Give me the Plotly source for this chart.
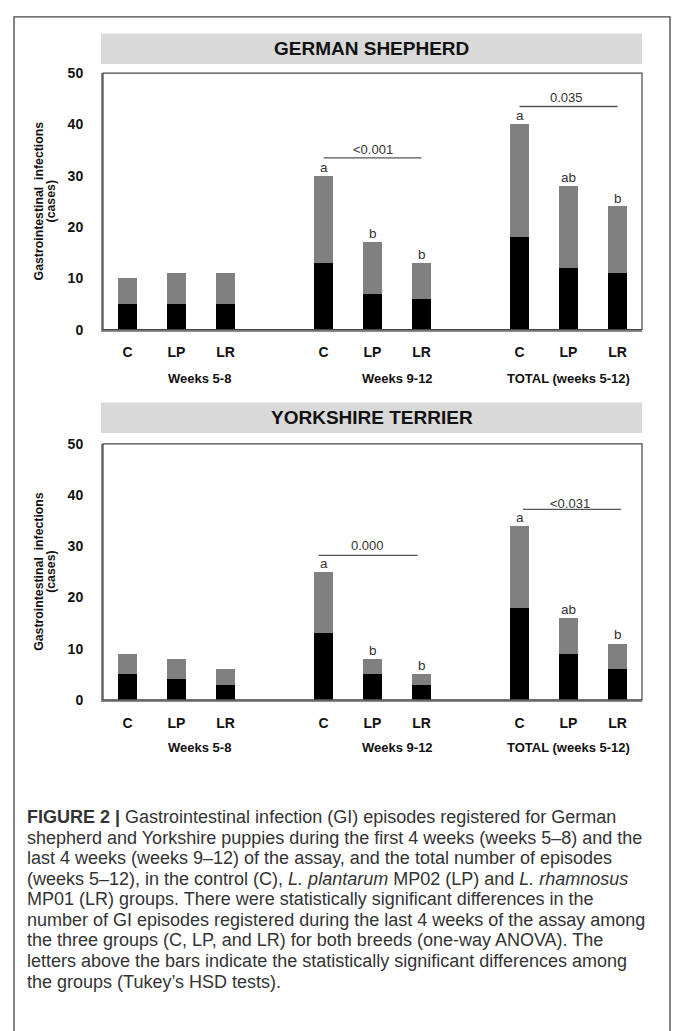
import plotly.graph_objects as go

W, H = 673, 1031
def px(x): return x / W
def py(y): return 1 - y / H

# ---------------- data ----------------
categories = ["C", "LP", "LR"]
periods = ["Weeks 5-8", "Weeks 9-12", "TOTAL (weeks 5-12)"]

gs_black = [5, 5, 5, 13, 7, 6, 18, 12, 11]
gs_total = [10, 11, 11, 30, 17, 13, 40, 28, 24]
gs_letters = ["", "", "", "a", "b", "b", "a", "ab", "b"]
gs_sig_text = ["<0.001", "0.035"]
gs_sig_x0 = [4.0, 8.0]
gs_sig_x1 = [6.0, 10.0]
gs_sig_line_y = [33.5, 43.5]
gs_sig_text_x = [5.0, 8.95]
gs_sig_text_y = [35.1, 45.3]

yt_black = [5, 4, 3, 13, 5, 3, 18, 9, 6]
yt_total = [9, 8, 6, 25, 8, 5, 34, 16, 11]
yt_letters = ["", "", "", "a", "b", "b", "a", "ab", "b"]
yt_sig_text = ["0.000", "<0.031"]
yt_sig_x0 = [3.9, 8.07]
yt_sig_x1 = [5.92, 10.07]
yt_sig_line_y = [28.2, 37.2]
yt_sig_text_x = [4.9, 9.04]
yt_sig_text_y = [30.2, 38.4]

y_ticks = [0, 10, 20, 30, 40, 50]

caption_lines = [
    "<b>FIGURE 2 |</b> Gastrointestinal infection (GI) episodes registered for German",
    "shepherd and Yorkshire puppies during the first 4 weeks (weeks 5–8) and the",
    "last 4 weeks (weeks 9–12) of the assay, and the total number of episodes",
    "(weeks 5–12), in the control (C), <i>L. plantarum</i> MP02 (LP) and <i>L. rhamnosus</i>",
    "MP01 (LR) groups. There were statistically significant differences in the",
    "number of GI episodes registered during the last 4 weeks of the assay among",
    "the three groups (C, LP, and LR) for both breeds (one-way ANOVA). The",
    "letters above the bars indicate the statistically significant differences among",
    "the groups (Tukey’s HSD tests).",
]

# ---------------- layout helpers ----------------
FONT = "Liberation Sans, Arial, sans-serif"
pos = [g * 4 + i for g in range(len(periods)) for i in range(len(categories))]
ticktext = categories * len(periods)
group_x = [1.47, 5.5, 9.0]

fig = go.Figure()

panels = [
    dict(black=gs_black, total=gs_total, letters=gs_letters, xa="x", ya="y",
         sig_text=gs_sig_text, sx0=gs_sig_x0, sx1=gs_sig_x1, sly=gs_sig_line_y,
         stx=gs_sig_text_x, sty=gs_sig_text_y,
         title="GERMAN SHEPHERD", head=(26, 57), y0px=326.7, y50px=66.2, grp_y=376),
    dict(black=yt_black, total=yt_total, letters=yt_letters, xa="x2", ya="y2",
         sig_text=yt_sig_text, sx0=yt_sig_x0, sx1=yt_sig_x1, sly=yt_sig_line_y,
         stx=yt_sig_text_x, sty=yt_sig_text_y,
         title="YORKSHIRE TERRIER", head=(400.7, 431.7), y0px=702.7, y50px=442.7, grp_y=751),
]

annotations = []
shapes = []

for k, p in enumerate(panels):
    gray = [t - b for t, b in zip(p["total"], p["black"])]
    fig.add_trace(go.Bar(x=pos, y=p["black"], width=0.4, marker=dict(color="#000000", line=dict(width=0)),
                         xaxis=p["xa"], yaxis=p["ya"], showlegend=False, hoverinfo="skip"))
    fig.add_trace(go.Bar(x=pos, y=gray, width=0.4, marker=dict(color="#808080", line=dict(width=0)),
                         xaxis=p["xa"], yaxis=p["ya"], showlegend=False, hoverinfo="skip"))

    # letters
    for xv, tv, lt in zip(pos, p["total"], p["letters"]):
        if lt:
            annotations.append(dict(x=xv, y=tv, xref=p["xa"], yref=p["ya"], text=lt, showarrow=False,
                                    yanchor="bottom", yshift=-1, font=dict(family=FONT, size=13.5, color="#333333")))
    # significance
    for t, x0, x1, ly, tx, ty in zip(p["sig_text"], p["sx0"], p["sx1"], p["sly"], p["stx"], p["sty"]):
        shapes.append(dict(type="line", xref=p["xa"], yref=p["ya"], x0=x0, x1=x1, y0=ly, y1=ly,
                           line=dict(color="#555555", width=1.3)))
        annotations.append(dict(x=tx, y=ty, xref=p["xa"], yref=p["ya"], text=t, showarrow=False,
                                yanchor="middle", font=dict(family=FONT, size=13, color="#333333")))
    # group labels
    for gx, g in zip(group_x, periods):
        annotations.append(dict(x=gx, y=py(p["grp_y"]), xref=p["xa"], yref="paper", text="<b>%s</b>" % g,
                                showarrow=False, yanchor="middle", font=dict(family=FONT, size=13, color="#111111")))
    # header band
    shapes.append(dict(type="rect", xref="paper", yref="paper", x0=px(101), x1=px(642),
                       y0=py(p["head"][1]), y1=py(p["head"][0]), fillcolor="#d9d9d9", line=dict(width=0), layer="below"))
    annotations.append(dict(x=px(371.5), y=py((p["head"][0] + p["head"][1]) / 2), xref="paper", yref="paper",
                            text="<b>%s</b>" % p["title"], showarrow=False, yanchor="middle",
                            font=dict(family=FONT, size=19, color="#111111")))
    # frame of plot area
    xd = p["xa"] + " domain"
    yd = p["ya"] + " domain"
    shapes.append(dict(type="rect", xref=xd, yref=yd, x0=0, x1=1, y0=0, y1=1,
                       line=dict(color="#444444", width=1.2)))
    # y axis title (two lines)
    ymid = (p["y0px"] + p["y50px"]) / 2
    annotations.append(dict(x=px(39), y=py(ymid), xref="paper", yref="paper", text="<b>Gastrointestinal  infections</b>",
                            textangle=-90, showarrow=False, xanchor="center", yanchor="middle",
                            font=dict(family=FONT, size=12.3, color="#111111")))
    annotations.append(dict(x=px(51), y=py(ymid), xref="paper", yref="paper", text="<b>(cases)</b>",
                            textangle=-90, showarrow=False, xanchor="center", yanchor="middle",
                            font=dict(family=FONT, size=12.3, color="#111111")))

# outer border
shapes.append(dict(type="rect", xref="paper", yref="paper", x0=px(14), x1=px(670), y0=-0.02, y1=py(9),
                   line=dict(color="#444444", width=1.3)))

# caption
for i, line in enumerate(caption_lines):
    annotations.append(dict(x=px(24.5), y=py(821.7 + 20.9 * i), xref="paper", yref="paper", text=line,
                            showarrow=False, xanchor="left", yanchor="middle",
                            font=dict(family=FONT, size=18, color="#333333")))

xaxis_common = dict(domain=[px(103), px(642)], range=[-0.5, 10.5], tickmode="array", tickvals=pos,
                    ticktext=["<b>%s</b>" % t for t in ticktext], showgrid=False, zeroline=False,
                    showline=True, linecolor="#8c8c8c", linewidth=2, ticks="", ticklabelstandoff=9,
                    tickfont=dict(family=FONT, size=14, color="#111111"), fixedrange=True)
yaxis_common = dict(range=[0, 50], tickmode="array", tickvals=y_ticks,
                    ticktext=["<b>%d</b>" % v for v in y_ticks], showgrid=False, zeroline=False,
                    showline=True, linecolor="#8c8c8c", linewidth=2, ticks="", ticklabelstandoff=15,
                    tickfont=dict(family=FONT, size=14, color="#111111"), fixedrange=True)

fig.update_layout(
    width=W, height=H, margin=dict(l=0, r=0, t=0, b=0, pad=0),
    paper_bgcolor="white", plot_bgcolor="white", barmode="stack", bargap=0,
    showlegend=False,
    xaxis=dict(xaxis_common, anchor="y"),
    yaxis=dict(yaxis_common, anchor="x", domain=[py(326.7), py(66.2)]),
    xaxis2=dict(xaxis_common, anchor="y2"),
    yaxis2=dict(yaxis_common, anchor="x2", domain=[py(702.7), py(442.7)]),
    annotations=annotations, shapes=shapes,
)

fig.write_html("out.html", config={"displayModeBar": False},
               post_script="document.body.style.margin='0';document.body.style.padding='0';"
                           "document.documentElement.style.overflow='hidden';")
